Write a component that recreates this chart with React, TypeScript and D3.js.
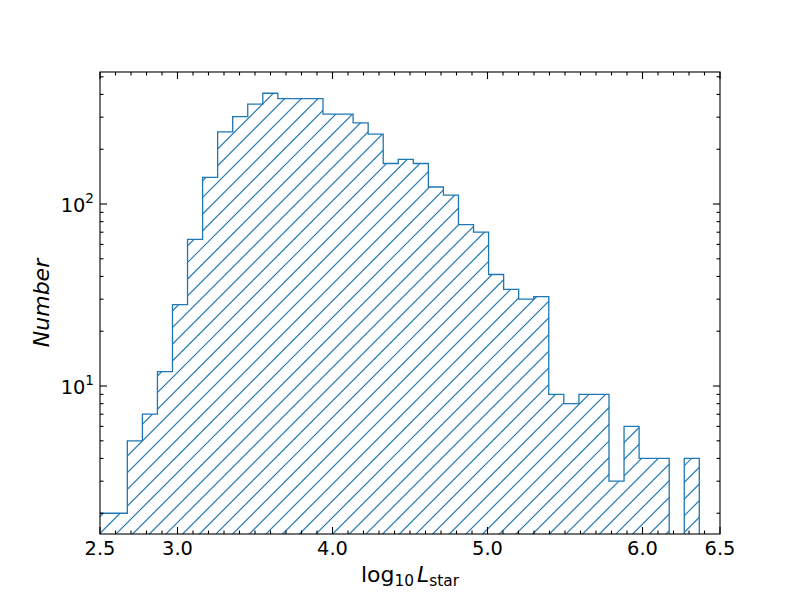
import React from 'react';
import * as d3 from 'd3';

// Histogram data (40 equal-width bins between binMin and binMax)
const binMin = 2.4821;
const binMax = 6.3665;
const counts = [
  2, 2, 5, 7, 12, 28, 64, 140, 249, 302,
  354, 406, 379, 379, 379, 312, 312, 279, 242, 167,
  176, 167, 124, 112, 77, 70, 41, 34, 30, 31,
  9, 8, 9, 9, 3, 6, 4, 4, 0, 4,
];

const xDomain = [2.5, 6.5];
const yDomain = [1.538, 531.3];
const xMajorTicks = [2.5, 3.0, 4.0, 5.0, 6.0, 6.5];
const xMajorLabels = ['2.5', '3.0', '4.0', '5.0', '6.0', '6.5'];
const yMajorTicks = [10, 100];
const yMajorExponents = ['1', '2'];

const W = 800;
const H = 600;
const L = 100, R = 720, T = 72, B = 534;
const COLOR = '#1f77b4';
const FONT = 'DejaVu Sans, sans-serif';

export default function App() {
  const x = d3.scaleLinear().domain(xDomain).range([L, R]);
  const y = d3.scaleLog().domain(yDomain).range([B, T]);

  const nb = counts.length;
  const edges = d3.range(nb + 1).map((i) => binMin + (i * (binMax - binMin)) / nb);
  const floorVal = 0.1;
  const yv = (v: number) => y(v > 0 ? v : floorVal);

  const pts: [number, number][] = [];
  pts.push([x(edges[0]), yv(floorVal)]);
  counts.forEach((c, i) => {
    pts.push([x(edges[i]), yv(c)]);
    pts.push([x(edges[i + 1]), yv(c)]);
  });
  pts.push([x(edges[nb]), yv(floorVal)]);
  const line = d3.line();
  const outline = line(pts) || '';
  const area = outline + 'Z';

  const xMinor = d3
    .range(26, 65)
    .map((i) => i / 10)
    .filter((v) => !xMajorTicks.some((m) => Math.abs(m - v) < 1e-9));
  const yMinor: number[] = [];
  [1, 10, 100].forEach((dec) => {
    for (let k = 2; k <= 9; k++) {
      const v = k * dec;
      if (v >= yDomain[0] && v <= yDomain[1]) yMinor.push(v);
    }
  });

  const MAJ = 7;
  const MIN = 3.5;
  const tickW = 1.1;

  // hatch pattern '//' : 12 lines per 100px tile, px+py = k*100/6
  const hatchLines = d3.range(0, 13).map((k) => (k * 200) / 12);

  return (
    <svg
      width={W}
      height={H}
      style={{ position: 'absolute', left: 0, top: 0, background: '#fff' }}
      xmlns="http://www.w3.org/2000/svg"
    >
      <defs>
        <clipPath id="axclip">
          <rect x={L} y={T} width={R - L} height={B - T} />
        </clipPath>
        <pattern id="hatch" patternUnits="userSpaceOnUse" x={0} y={0} width={100} height={100}>
          {hatchLines.map((c, i) => (
            <line
              key={i}
              x1={c + 20}
              y1={-20}
              x2={c - 220}
              y2={220}
              stroke={COLOR}
              strokeWidth={1.2}
            />
          ))}
        </pattern>
      </defs>
      <rect x={0} y={0} width={W} height={H} fill="#fff" />
      <g clipPath="url(#axclip)">
        <path d={area} fill="url(#hatch)" stroke="none" />
        <path d={outline} fill="none" stroke={COLOR} strokeWidth={1.3} strokeLinejoin="miter" />
      </g>

      {/* spines */}
      <rect x={L} y={T} width={R - L} height={B - T} fill="none" stroke="#000" strokeWidth={1.1} />

      {/* x ticks */}
      {xMajorTicks.map((v, i) => (
        <g key={'xM' + i}>
          <line x1={x(v)} x2={x(v)} y1={B} y2={B - MAJ} stroke="#000" strokeWidth={tickW} />
          <line x1={x(v)} x2={x(v)} y1={T} y2={T + MAJ} stroke="#000" strokeWidth={tickW} />
          <text
            x={x(v)}
            y={555}
            textAnchor="middle"
            fontFamily={FONT}
            fontSize={19.4}
            fill="#000"
          >
            {xMajorLabels[i]}
          </text>
        </g>
      ))}
      {xMinor.map((v, i) => (
        <g key={'xm' + i}>
          <line x1={x(v)} x2={x(v)} y1={B} y2={B - MIN} stroke="#000" strokeWidth={tickW} />
          <line x1={x(v)} x2={x(v)} y1={T} y2={T + MIN} stroke="#000" strokeWidth={tickW} />
        </g>
      ))}

      {/* y ticks */}
      {yMajorTicks.map((v, i) => (
        <g key={'yM' + i}>
          <line x1={L} x2={L + MAJ} y1={y(v)} y2={y(v)} stroke="#000" strokeWidth={tickW} />
          <line x1={R} x2={R - MAJ} y1={y(v)} y2={y(v)} stroke="#000" strokeWidth={tickW} />
          <text
            x={94}
            y={y(v) + 7.5}
            textAnchor="end"
            fontFamily={FONT}
            fontSize={19.4}
            fill="#000"
          >
            10
            <tspan fontSize={13.6} dy={-8.5}>
              {yMajorExponents[i]}
            </tspan>
          </text>
        </g>
      ))}
      {yMinor.map((v, i) => (
        <g key={'ym' + i}>
          <line x1={L} x2={L + MIN} y1={y(v)} y2={y(v)} stroke="#000" strokeWidth={tickW} />
          <line x1={R} x2={R - MIN} y1={y(v)} y2={y(v)} stroke="#000" strokeWidth={tickW} />
        </g>
      ))}

      {/* axis labels */}
      <text x={410} y={582} textAnchor="middle" fontFamily={FONT} fontSize={22} fill="#000">
        log
        <tspan fontSize={15.4} dy={4}>10</tspan>
        <tspan fontStyle="italic" dy={-4} dx={3}>L</tspan>
        <tspan fontSize={15.4} dy={4}>star</tspan>
      </text>
      <text
        transform={`translate(49,${(T + B) / 2}) rotate(-90)`}
        textAnchor="middle"
        fontFamily={FONT}
        fontStyle="italic"
        fontSize={22}
        fill="#000"
      >
        Number
      </text>
    </svg>
  );
}
